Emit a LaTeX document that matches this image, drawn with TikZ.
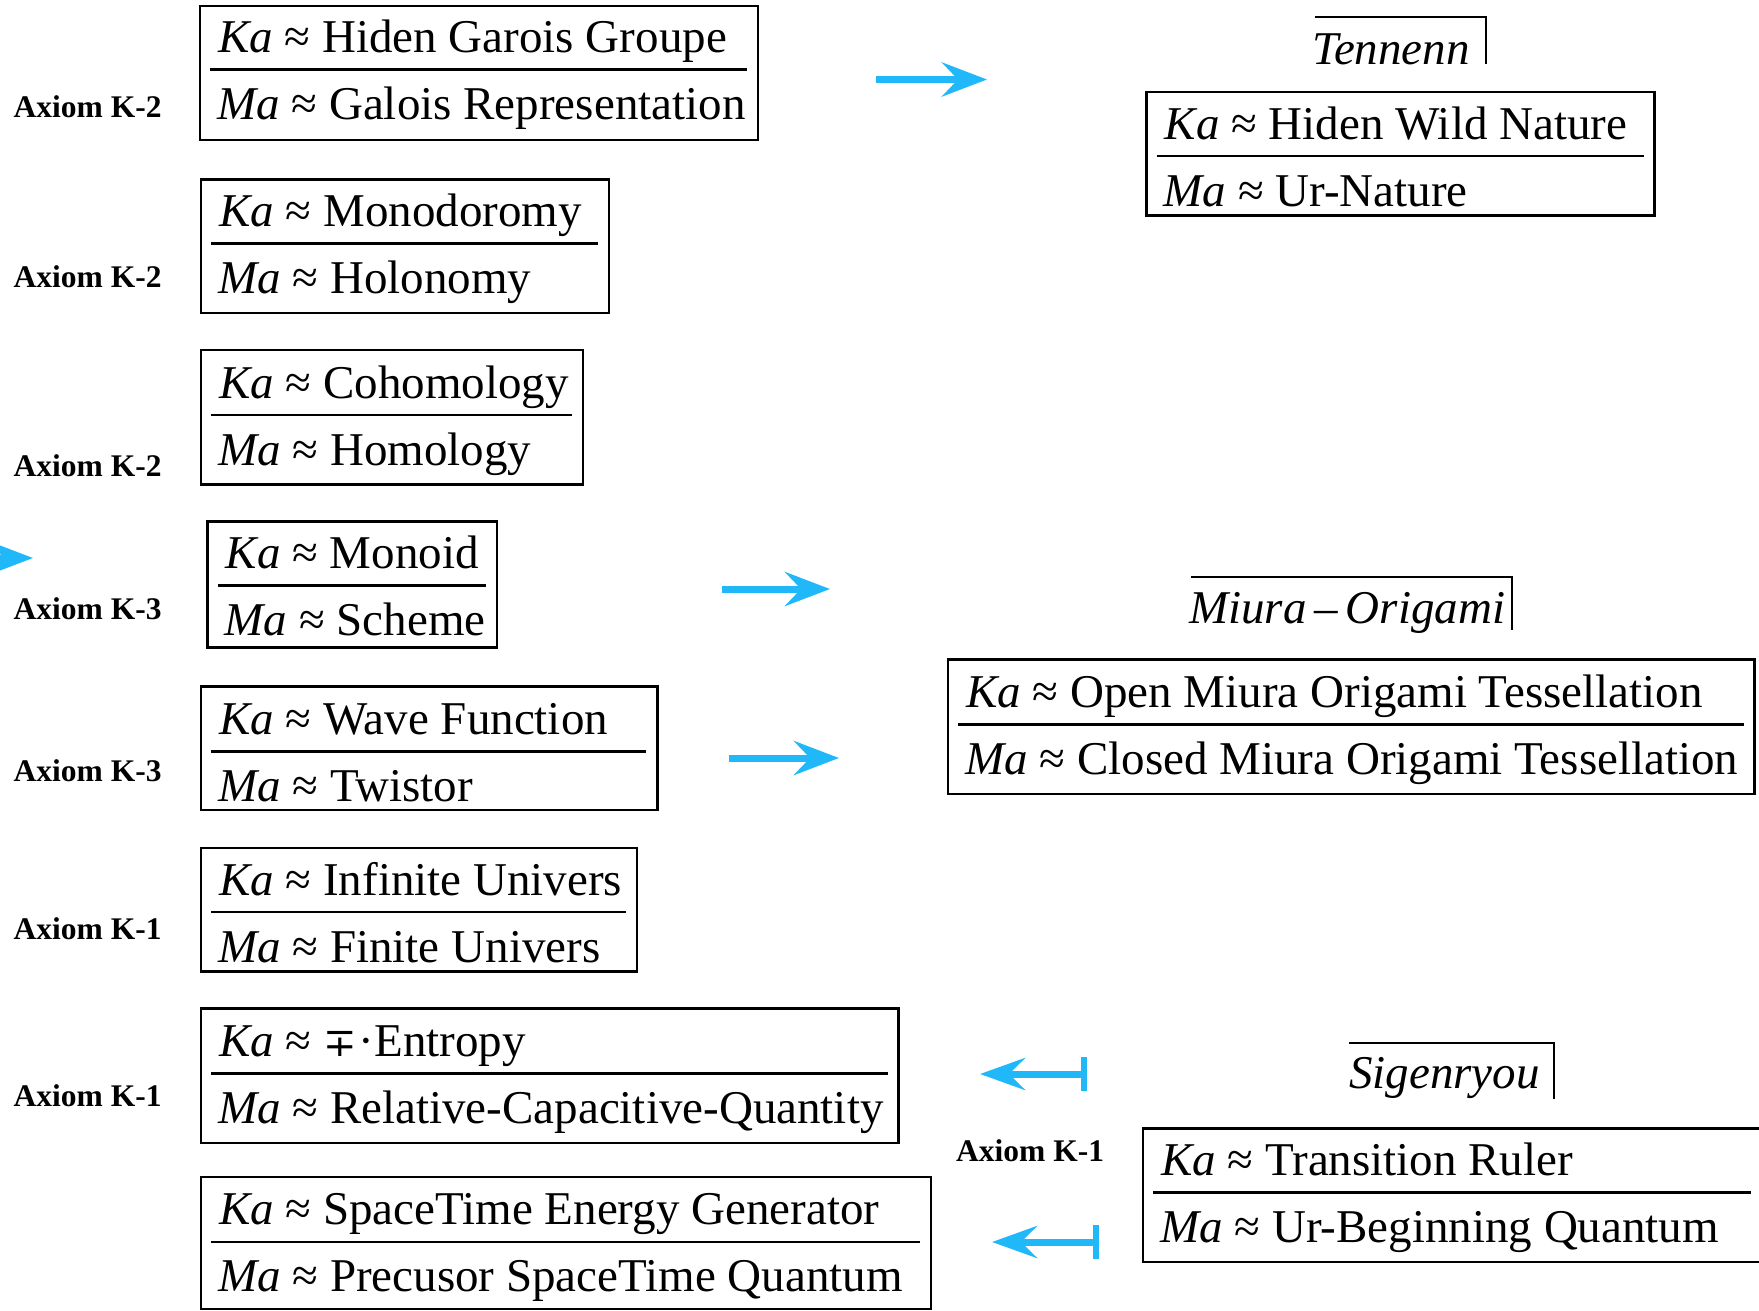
\documentclass[tikz,border=0pt]{standalone}
\usepackage{fontspec}
\setmainfont{Liberation Serif}
\newfontfamily\kmsymfont{DejaVu Serif}
\usetikzlibrary{arrows.meta,fit}
\definecolor{kblue}{RGB}{32,184,248}
\tikzset{
  kmframe/.style={draw=black, line width=2.5pt, inner sep=0pt, rectangle},
  kmdiv/.style={draw=black, line width=2.6pt},
  kmtext/.style={anchor=base west, inner sep=0pt, font=\fontsize{47}{56}\selectfont},
  kmtitle/.style={anchor=base west, inner sep=0pt, font=\fontsize{47}{56}\selectfont\itshape},
  kmbar/.style={draw=black, line width=2.5pt},
  axlabel/.style={anchor=west, inner sep=0pt, font=\fontsize{31.5}{36}\selectfont\bfseries},
  karrow/.style={draw=kblue, line width=7pt, -{Stealth[length=45pt,width=34pt,inset=16pt]}},
  kbararrow/.style={draw=kblue, line width=7pt, {Bar[width=34pt,line width=6.5pt]}-{Stealth[length=45pt,width=32pt,inset=16pt]}},
}
\newcommand\kmbox[8]{%
  \coordinate (#1nw) at (#2,#3);
  \coordinate (#1se) at (#4,#5);
  \node[kmframe, fit=(#1nw)(#1se)] (#1) {};
  \coordinate (#1dl) at ({#2+10},#6);
  \coordinate (#1dr) at ({#4-11},#6);
  \draw[kmdiv] (#1dl) -- (#1dr);
  \node[kmtext] (#1ka) at ({#2+18},{#6-17}) {\textit{Ka} ≈ #7};
  \node[kmtext] (#1ma) at ({#2+17},{#6+50}) {\textit{Ma} ≈ #8};
}
\begin{document}
\begin{tikzpicture}[x=1pt,y=-1pt]
\useasboundingbox (0,0) rectangle (1759,1310);
% left column
\kmbox{b1}{200}{6}{758}{140}{69.6}{Hiden Garois Groupe}{Galois Representation}
\kmbox{b2}{201}{179.5}{609}{313}{243.4}{Monodoromy}{Holonomy}
\kmbox{b3}{201}{350}{583}{484.6}{415}{Cohomology}{Homology}
\kmbox{b4}{207.5}{521.6}{497}{647.3}{585.6}{Monoid}{Scheme}
\kmbox{b5}{201}{686.5}{657.4}{810}{751.6}{Wave Function}{Twistor}
\kmbox{b6}{201}{848}{637}{971.5}{912}{Infinite Univers}{Finite Univers}
\kmbox{b7}{201}{1008.5}{898.6}{1143}{1073.6}{{\kmsymfont\fontsize{40}{48}\selectfont ∓}\hspace{2pt}·Entropy}{Relative-Capacitive-Quantity}
\kmbox{b8}{201}{1177}{931}{1309}{1241.8}{SpaceTime Energy Generator}{Precusor SpaceTime Quantum}
% right column
\kmbox{bT}{1146.5}{92}{1654.7}{215.4}{156}{Hiden Wild Nature}{Ur-Nature}
\kmbox{bM}{948}{659.6}{1754.5}{794.2}{724.7}{Open Miura Origami Tessellation}{Closed Miura Origami Tessellation}
\kmbox{bS}{1143}{1128.5}{1762}{1262}{1192.5}{Transition Ruler}{Ur-Beginning Quantum}
% titles
\node[kmtitle] (tten) at (1312,64) {Tennenn};
\draw[kmbar] (1315,17) -- (1486,17) -- (1486,64);
\node[kmtitle] (tmiu) at (1189,623) {Miura\,–\,Origami};
\draw[kmbar] (1191,577) -- (1512,577) -- (1512,630);
\node[kmtitle] (tsig) at (1349,1088) {Sigenryou};
\draw[kmbar] (1349,1043) -- (1554,1043) -- (1554,1099);
% labels
\node[axlabel] (l1) at (13.5,106.6) {Axiom K-2};
\node[axlabel] (l2) at (13.5,277) {Axiom K-2};
\node[axlabel] (l3) at (13.5,465.5) {Axiom K-2};
\node[axlabel] (l4) at (13.5,609) {Axiom K-3};
\node[axlabel] (l5) at (13.5,770.7) {Axiom K-3};
\node[axlabel] (l6) at (13.5,928.9) {Axiom K-1};
\node[axlabel] (l7) at (13.5,1096) {Axiom K-1};
\node[axlabel] (l8) at (956,1151) {Axiom K-1};
% arrows
\coordinate (a1s) at (876,79.5);  \coordinate (a1e) at (987,79.5);
\coordinate (a2s) at (-80,558);   \coordinate (a2e) at (33,558);
\coordinate (a3s) at (722,589);   \coordinate (a3e) at (830,589);
\coordinate (a4s) at (729,758);   \coordinate (a4e) at (839,758);
\coordinate (a5s) at (1087,1074); \coordinate (a5e) at (980,1074);
\coordinate (a6s) at (1099,1242); \coordinate (a6e) at (992,1242);
\draw[karrow] (a1s) -- (a1e);
\draw[karrow] (a2s) -- (a2e);
\draw[karrow] (a3s) -- (a3e);
\draw[karrow] (a4s) -- (a4e);
\draw[kbararrow] (a5s) -- (a5e);
\draw[kbararrow] (a6s) -- (a6e);
\end{tikzpicture}
\end{document}
